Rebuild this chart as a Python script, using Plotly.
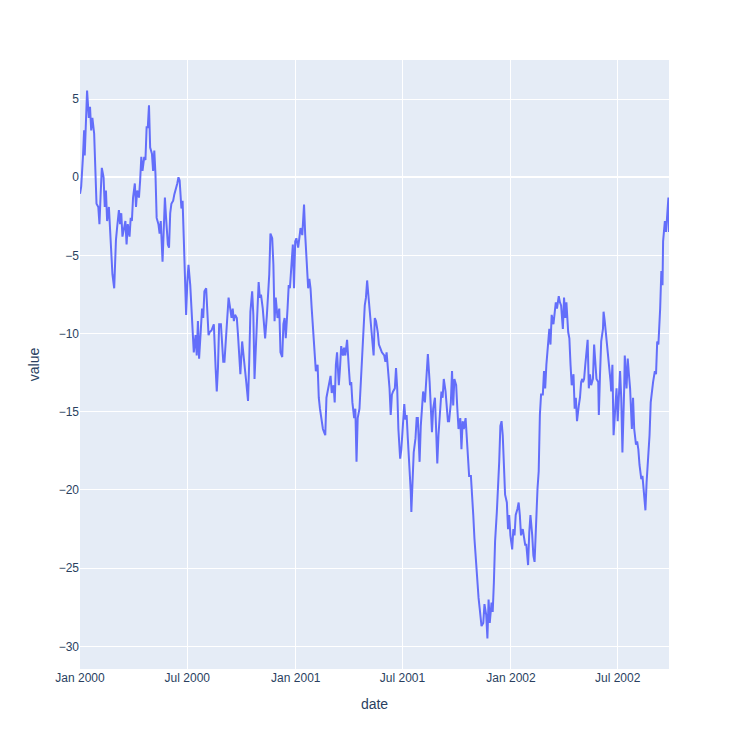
import pandas as pd
import plotly.graph_objects as go

# Day offsets from 2000-01-01 and the value read at each
days = [
    0, 2, 5, 7, 8, 10, 12, 15, 17, 19, 21, 24, 26, 28, 31, 33, 35, 37, 40, 42, 44, 46, 49, 51, 53, 55, 58, 59,
    61, 63, 66, 68, 70, 72, 75, 77, 79, 81, 84, 86, 88, 90, 93, 95, 97, 100, 102, 104, 106, 109, 111, 113, 115,
    117, 119, 122, 124, 126, 128, 130, 133, 135, 137, 140, 142, 144, 146, 149, 151, 153, 155, 158, 160, 162, 165,
    167, 169,
    172, 174, 176, 179, 180, 182, 184, 187, 189, 191, 193, 196, 198, 200, 202, 205, 207, 209, 211, 214, 216, 218,
    220, 223, 225, 227, 230, 232, 234, 236, 239, 241, 243, 245, 248, 250, 252, 254, 257, 259, 261, 263, 266, 268,
    270, 272, 275, 277, 279, 282, 284, 285, 287, 289, 292, 294, 296, 298, 301, 303, 305, 307, 310, 312, 314, 317,
    319, 321, 323, 326, 328, 330, 332, 335,
    338, 340, 343, 345, 347, 349, 352, 354, 356, 358, 361, 363, 365, 367, 370, 372, 374, 377, 379, 380, 382, 384,
    387, 389, 391, 393, 396, 398, 400, 403, 405, 407, 409, 412, 414, 416, 418, 421, 423, 425, 427, 430, 432, 434,
    436, 439, 441, 443, 446, 448, 450, 452, 453, 456, 458, 460, 462, 465, 467, 469, 471, 474, 476, 478, 481, 483,
    485, 487, 489, 491, 494, 496, 498, 500, 502, 505, 507, 509, 512,
    516, 518, 520, 522, 525, 527, 529, 531, 534, 536, 538, 540, 543, 545, 547, 550, 552, 554, 556, 559, 561, 562,
    564, 566, 569, 571, 573, 576, 578, 580, 582, 585, 587, 589, 590, 593, 595, 597, 599, 602, 604, 606, 608, 611,
    613, 615, 617, 620, 622, 624, 626, 629, 631, 633, 635, 638, 640, 642, 645, 647, 649, 651, 654, 656, 658, 660,
    663, 665, 667, 669, 672, 674, 676, 678, 681,
    684, 686, 689, 691, 693, 695, 698, 700, 702, 704, 707, 709, 711, 713, 715, 717, 719, 721, 724, 726, 728, 730,
    733, 735, 737, 739, 742, 744, 746, 748, 751, 753, 755, 757, 760, 762, 764, 767, 769, 771, 773, 776, 778, 780,
    782, 785, 787, 789, 791, 794, 796, 798, 800, 803, 805, 807, 809, 812, 814, 816, 819, 821, 823, 825, 828, 830,
    832, 834, 837, 839, 841, 843, 846, 848, 850, 852,
    853, 855, 857, 859, 861, 863, 865, 867, 870, 872, 874, 876, 879, 880, 882, 884, 887, 888, 890, 893, 895, 897,
    900, 901, 903, 905, 907, 910, 912, 914, 916, 918, 920, 923, 924, 927, 929, 931, 933, 936, 938, 940, 943, 945,
    947, 949, 952, 954, 956, 958, 959, 961, 963, 966, 968, 970, 972, 975, 977, 979, 981, 984, 986, 988, 989, 992,
    994, 996, 998, 999,
]

values = [
    -1.06, -0.6, 1.3, 3.0, 1.4, 4.0, 5.55, 3.8, 4.5, 3.0, 3.8, 2.8, 0.4, -1.7, -1.9, -3.0, -1.1, 0.6, 0.0, -1.9,
    -0.85, -2.8, -1.9, -3.6, -4.9, -6.2, -7.1, -5.3, -4.0, -3.2, -2.1, -3.0, -2.3, -3.8, -3.0, -2.8, -4.3, -3.0,
    -3.8, -2.6, -2.8, -1.3, -0.4, -1.9, -0.85, -1.3, -0.2, 1.3, 0.4, 1.3, 1.1, 3.2, 3.2, 4.6, 1.9, 1.5, 0.4, 1.7,
    0.2, -2.6, -3.0, -3.6, -2.8, -5.4, -3.4, -1.3, -2.6, -4.3, -4.5, -2.3, -1.7, -1.5, -1.1, -0.85, -0.4, 0.0, -0.2,
    -2.0, -1.5, -3.9, -6.9, -8.8, -6.7, -5.6, -6.9, -8.6, -10.5, -11.2, -10.1, -11.4, -9.2, -11.6, -9.7, -8.4,
    -9.0, -7.3, -7.1, -8.4, -10.1, -9.9, -9.8, -9.6, -9.4, -12.2, -13.7, -12.2, -9.4, -9.4, -10.5, -11.8, -11.8,
    -9.9, -8.8, -7.7, -8.2, -9.0, -8.4, -9.2, -8.8, -9.0, -10.1, -11.2, -12.6, -10.5, -11.6, -12.0, -13.1, -13.7,
    -14.3, -11.8, -8.6, -7.3, -8.8, -12.9, -11.2, -7.9, -6.7, -7.7, -7.5, -8.4, -9.2, -10.3, -8.8, -7.3, -6.2,
    -3.6, -3.9, -5.6, -9.2, -7.7, -9.0,
    -8.4, -11.2, -11.5, -9.4, -9.0, -10.3, -8.4, -6.9, -7.1, -5.8, -4.3, -7.1, -4.1, -3.9, -4.5, -3.9, -3.25,
    -3.7, -2.2, -1.75, -3.7, -4.96, -7.1, -6.5, -7.1, -8.4, -10.1, -10.9, -12.4, -12.0, -14.1, -14.8, -15.4,
    -16.1, -16.3, -16.5, -14.1, -13.5, -13.3, -12.7, -13.8, -13.3, -14.4, -12.0, -11.2, -13.3, -12.2, -10.8,
    -11.4, -10.9, -11.4, -10.9, -10.4, -12.2, -13.3, -13.1, -14.4, -15.4, -14.8, -18.2, -15.4, -14.8, -13.3,
    -11.2, -9.7, -8.2, -7.7, -6.6, -7.5, -8.4, -9.9, -10.7, -11.4, -9.0, -9.2, -9.9, -10.7, -10.9, -11.2,
    -11.4, -11.8, -11.2, -12.2, -13.5, -15.2, -13.9, -13.7, -13.5, -12.2, -13.5, -16.1, -18.0, -17.4, -15.9,
    -14.5, -15.5, -15.2, -16.7, -18.4, -20.1, -21.4, -19.5, -17.6, -16.7, -15.4, -15.4, -18.2, -15.9, -14.4,
    -13.7, -14.4, -13.1, -12.0, -11.3, -13.1, -15.2, -16.3, -14.8, -14.1, -16.1, -18.3, -16.5, -14.8, -13.7,
    -14.1, -12.9, -13.7, -14.8, -15.6, -15.6, -14.4, -12.4, -14.6, -12.9, -13.3, -14.8, -16.1, -15.4, -17.4,
    -15.6, -16.1, -15.4, -16.5, -17.6, -19.1, -19.1, -20.1, -21.6, -23.1, -25.0, -25.9, -26.9, -27.6, -28.7,
    -28.5, -27.3, -28.0, -29.5, -27.0, -28.5, -27.2, -27.8, -25.9, -23.3, -21.4, -19.9, -18.2, -15.9, -15.6,
    -16.5, -18.6, -20.3, -20.8, -22.5, -21.6, -22.9, -23.8, -22.5, -22.9, -21.6, -21.2, -20.8, -21.6, -22.9,
    -22.5, -23.1, -23.5, -23.5, -24.8, -22.7, -21.6, -22.9, -24.2, -24.6, -22.1, -19.9, -18.8, -15.2, -13.9,
    -13.9, -12.4, -13.5, -12.0, -10.9, -9.7, -10.7, -8.8, -9.4, -8.4, -8.0, -8.4, -7.6, -8.0, -8.2, -9.7, -7.7,
    -9.0, -8.0, -9.9, -10.3, -12.0, -13.3, -12.6, -14.8, -14.1, -15.6, -14.6, -14.1, -13.1, -12.9,
    -13.1, -12.9, -12.0, -10.9, -10.4, -13.5, -12.6, -13.3, -12.9, -10.7, -11.8, -12.9, -13.1, -15.2, -12.6,
    -10.5, -9.7, -8.6, -9.2, -10.3, -10.9, -11.8, -13.1, -13.7, -12.0, -16.5, -15.2, -13.5, -15.6, -13.5, -12.4,
    -14.1, -17.6, -13.5, -11.4, -13.5, -11.6, -12.6, -13.5, -16.1, -14.1, -16.1, -17.1, -16.9, -17.4, -18.4,
    -19.3, -19.1, -20.1, -20.8, -21.3, -19.5, -18.4, -16.5, -14.4, -13.5, -13.1, -12.4, -12.6, -10.5, -10.7,
    -8.4, -6.0, -6.9, -4.1, -2.8, -3.5, -2.4, -1.3, -3.5,
]

dates = pd.Timestamp("2000-01-01") + pd.to_timedelta(days, unit="D")

fig = go.Figure(
    go.Scatter(x=dates, y=values, mode="lines", line=dict(color="#636efa", width=2))
)
fig.update_layout(
    template="plotly",
    width=734,
    height=734,
    font=dict(family="Liberation Sans, Arial, sans-serif"),
    margin=dict(t=52, l=72, r=73, b=73),
    xaxis_title="date",
    yaxis_title="value",
    showlegend=False,
)
fig.write_html("out.html")
